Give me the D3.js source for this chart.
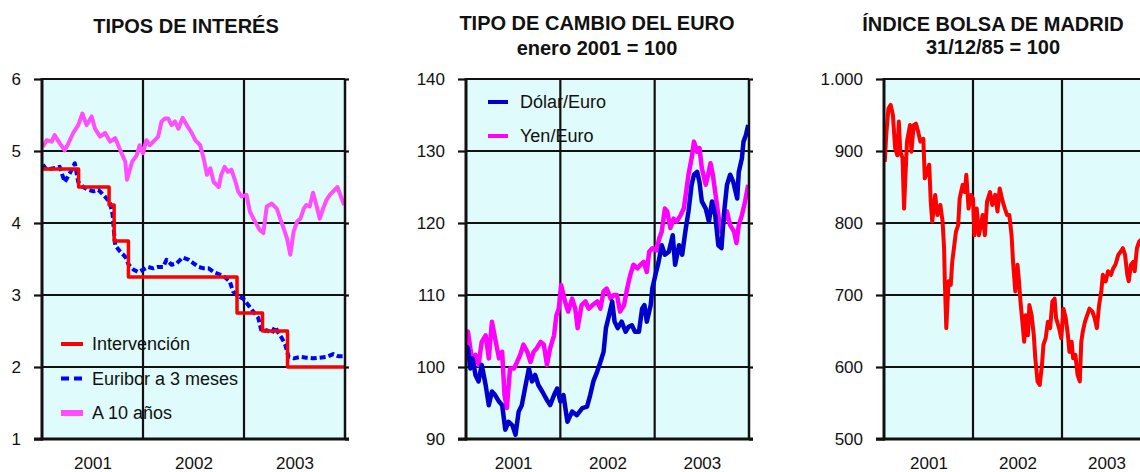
<!DOCTYPE html>
<html>
<head>
<meta charset="utf-8">
<script src="https://cdn.jsdelivr.net/npm/d3@7"></script>
<style>
    body { margin: 0; background: #fff; }
</style>
</head>
<body>
<svg id="main" width="1140" height="472"></svg>
<script>
// meses desde enero 2001
const years = ["2001", "2002", "2003"];
const yearMid = [6, 18, 30];

const tiposTicks = [1, 2, 3, 4, 5, 6];
const cambioTicks = [90, 100, 110, 120, 130, 140];
const bolsaTicks = [500, 600, 700, 800, 900, 1000];
const bolsaLabels = ["500", "600", "700", "800", "900", "1.000"];

const intervencion = [[0, 4.75], [4.35, 4.5], [7.97, 4.25], [8.57, 3.75], [10.27, 3.25], [23.17, 2.75], [26.2, 2.5], [29.17, 2.0], [35.9, 2.0]];

const euribor = [[0.1, 4.81], [0.55, 4.74], [1.35, 4.76], [2.1, 4.78], [2.7, 4.57], [3.3, 4.69], [3.9, 4.83], [4.3, 4.57], [4.9, 4.50], [5.5, 4.46],
    [6.1, 4.44], [6.7, 4.46], [7.3, 4.39], [7.7, 4.34], [8.1, 4.27], [8.4, 4.11], [8.55, 3.88], [8.7, 3.69], [9.3, 3.60], [9.9, 3.53],
    [10.3, 3.42], [10.9, 3.35], [11.4, 3.32], [12.0, 3.35], [12.6, 3.39], [13.2, 3.37], [13.8, 3.39], [14.4, 3.39], [14.8, 3.49], [15.4, 3.42],
    [16.0, 3.44], [16.7, 3.52], [17.4, 3.49], [18.0, 3.44], [18.6, 3.39], [19.2, 3.37], [19.8, 3.37], [20.4, 3.32], [21.2, 3.28], [21.7, 3.25],
    [22.3, 3.19], [22.7, 3.05], [23.3, 2.98], [23.9, 2.95], [24.5, 2.86], [25.1, 2.77], [25.7, 2.68], [26.1, 2.49], [26.7, 2.51], [27.3, 2.47],
    [27.7, 2.56], [28.1, 2.47], [28.5, 2.40], [28.9, 2.31], [29.3, 2.14], [29.9, 2.12], [30.7, 2.14], [31.4, 2.13], [32.2, 2.12], [33.0, 2.13],
    [33.8, 2.14], [34.6, 2.18], [35.2, 2.15], [35.9, 2.15]];

const diezAnos = [[0.1, 5.06], [0.55, 5.15], [1.15, 5.13], [1.5, 5.22], [2.1, 5.11], [2.7, 5.01], [3.1, 5.10], [3.7, 5.25], [4.3, 5.36], [4.8, 5.52],
    [5.3, 5.36], [5.9, 5.48], [6.3, 5.31], [6.9, 5.20], [7.5, 5.25], [8.1, 5.13], [8.7, 5.18], [9.3, 5.01], [9.9, 4.85], [10.1, 4.60],
    [10.7, 4.85], [11.25, 4.94], [11.6, 5.08], [12.0, 4.97], [12.4, 5.15], [12.8, 5.08], [13.4, 5.15], [13.8, 5.20], [14.2, 5.41], [14.6, 5.45],
    [15.0, 5.45], [15.4, 5.36], [15.8, 5.41], [16.2, 5.31], [16.7, 5.46], [17.2, 5.36], [17.8, 5.25], [18.2, 5.15], [18.8, 5.08], [19.2, 4.90],
    [19.6, 4.67], [20.0, 4.76], [20.4, 4.57], [21.0, 4.50], [21.3, 4.67], [21.7, 4.78], [22.1, 4.71], [22.5, 4.74], [23.0, 4.57], [23.3, 4.44],
    [23.7, 4.37], [24.3, 4.39], [24.7, 4.16], [25.3, 4.02], [25.9, 3.90], [26.3, 3.86], [26.7, 4.23], [27.3, 4.27], [27.9, 4.20], [28.3, 4.06],
    [28.7, 3.93], [29.1, 3.79], [29.5, 3.56], [29.9, 3.88], [30.3, 4.02], [30.7, 4.06], [31.1, 4.20], [31.4, 4.25], [31.8, 4.23], [32.2, 4.42],
    [32.6, 4.25], [33.0, 4.06], [33.4, 4.20], [33.8, 4.32], [34.2, 4.39], [34.6, 4.44], [35.1, 4.50], [35.6, 4.34], [35.9, 4.25]];

const dolarEuro = [[0, 102.9], [0.25, 102.6], [0.55, 99.8], [0.85, 101.2], [1.2, 98.9], [1.6, 98.0], [2.0, 100.3], [2.5, 97.5], [2.9, 94.7], [3.3, 96.6],
    [3.7, 96.1], [4.2, 95.2], [4.6, 94.7], [5.0, 91.3], [5.4, 92.4], [5.9, 91.9], [6.3, 90.6], [6.7, 93.8], [7.1, 94.7], [7.5, 97.0],
    [8.0, 99.8], [8.4, 98.0], [8.8, 98.9], [9.2, 97.5], [9.7, 96.6], [10.3, 95.4], [10.7, 94.7], [11.2, 96.1], [11.6, 97.0], [12.0, 95.2],
    [12.4, 96.1], [12.9, 92.4], [13.5, 93.8], [14.1, 93.3], [14.8, 94.3], [15.4, 94.5], [15.8, 96.1], [16.2, 98.0], [16.7, 99.4], [17.1, 100.7],
    [17.5, 102.1], [17.8, 105.4], [18.2, 107.2], [18.6, 109.1], [18.9, 106.3], [19.3, 105.4], [19.8, 106.3], [20.3, 104.9], [20.7, 105.6], [21.1, 105.8],
    [21.5, 104.9], [22.0, 104.9], [22.4, 108.1], [22.7, 108.6], [23.0, 106.3], [23.5, 108.6], [23.7, 110.9], [24.1, 112.8], [24.5, 114.6], [24.9, 116.9],
    [25.3, 115.6], [25.8, 116.0], [26.3, 118.3], [26.6, 114.2], [27.1, 116.9], [27.5, 115.6], [27.9, 118.8], [28.3, 121.6], [28.7, 125.3], [29.0, 126.7],
    [29.4, 127.1], [29.7, 125.7], [30.0, 123.0], [30.5, 122.0], [30.9, 120.2], [31.3, 123.0], [31.7, 121.1], [32.1, 116.9], [32.5, 116.5], [32.8, 121.1],
    [33.2, 125.3], [33.6, 126.7], [34.0, 125.7], [34.5, 123.4], [34.7, 127.1], [35.1, 129.0], [35.3, 131.3], [35.6, 132.2], [35.9, 133.6]];

const yenEuro = [[0, 105.0], [0.25, 104.9], [0.55, 102.6], [0.85, 100.7], [1.2, 101.7], [1.6, 100.3], [2.0, 103.5], [2.5, 104.4], [2.9, 101.2], [3.3, 106.3],
    [3.7, 104.0], [4.2, 101.2], [4.6, 102.1], [4.9, 96.1], [5.2, 94.3], [5.6, 99.8], [6.1, 99.8], [6.5, 100.7], [6.9, 101.7], [7.3, 103.1],
    [7.8, 102.1], [8.2, 100.7], [8.6, 102.1], [9.0, 102.6], [9.5, 103.5], [9.9, 103.1], [10.3, 100.3], [10.7, 102.6], [11.2, 104.4], [11.5, 107.2],
    [11.8, 108.1], [12.1, 111.4], [12.6, 109.1], [13.0, 107.7], [13.5, 109.5], [13.9, 108.1], [14.2, 105.4], [14.7, 108.6], [15.2, 109.1], [15.6, 108.1],
    [16.1, 108.6], [16.7, 109.1], [17.1, 108.1], [17.5, 110.5], [17.9, 110.9], [18.4, 109.5], [18.8, 110.0], [19.2, 110.0], [19.6, 107.7], [20.1, 108.6],
    [20.5, 110.9], [20.9, 112.8], [21.3, 114.2], [21.8, 113.7], [22.2, 114.2], [22.6, 114.6], [23.0, 113.2], [23.3, 116.0], [23.7, 116.5], [24.2, 116.2],
    [24.6, 117.9], [24.9, 118.8], [25.3, 122.0], [25.6, 121.6], [26.0, 119.3], [26.4, 120.6], [26.8, 120.2], [27.3, 121.1], [27.7, 122.0], [28.0, 124.3],
    [28.3, 126.7], [28.7, 129.0], [29.0, 131.3], [29.4, 129.9], [29.7, 130.4], [30.0, 127.6], [30.5, 125.3], [30.8, 126.7], [31.1, 128.3], [31.4, 126.7],
    [31.7, 124.3], [32.1, 121.1], [32.4, 118.8], [32.8, 120.2], [33.2, 121.6], [33.6, 119.7], [34.1, 118.8], [34.4, 117.2], [34.7, 119.7], [35.1, 121.1],
    [35.5, 123.0], [35.9, 125.3]];

const bolsaMadrid = [[0.1, 885], [0.3, 922], [0.6, 959], [0.9, 964], [1.2, 950], [1.5, 904], [1.8, 894], [2.0, 941], [2.2, 899], [2.5, 890],
    [2.7, 820], [2.9, 867], [3.1, 913], [3.5, 936], [3.7, 899], [4.0, 936], [4.3, 938], [4.6, 927], [4.9, 913], [5.3, 917],
    [5.5, 862], [5.8, 871], [6.1, 881], [6.3, 830], [6.5, 802], [6.9, 839], [7.2, 811], [7.6, 825], [7.9, 802], [8.1, 765],
    [8.2, 719], [8.4, 654], [8.7, 719], [9.0, 714], [9.2, 746], [9.7, 788], [10.0, 797], [10.2, 834], [10.6, 853], [10.9, 843],
    [11.1, 867], [11.4, 820], [11.7, 839], [12.0, 834], [12.2, 783], [12.5, 820], [12.8, 783], [13.3, 811], [13.6, 783], [13.9, 830],
    [14.3, 843], [14.6, 825], [15.0, 839], [15.3, 816], [15.6, 848], [16.0, 830], [16.3, 820], [16.6, 811], [16.9, 811], [17.2, 783],
    [17.4, 746], [17.7, 705], [18.0, 742], [18.2, 719], [18.4, 691], [18.7, 658], [18.9, 635], [19.1, 672], [19.4, 644], [19.6, 686],
    [19.9, 672], [20.2, 644], [20.4, 612], [20.7, 580], [21.0, 575], [21.3, 603], [21.5, 631], [21.8, 640], [22.1, 663], [22.4, 654],
    [22.7, 691], [23.0, 695], [23.2, 668], [23.6, 654], [23.9, 640], [24.2, 681], [24.5, 668], [24.8, 644], [25.0, 621], [25.3, 635],
    [25.5, 612], [25.8, 617], [26.1, 589], [26.4, 580], [26.6, 635], [26.8, 649], [27.1, 663], [27.4, 672], [27.7, 681], [28.1, 677],
    [28.4, 668], [28.7, 654], [29.0, 686], [29.3, 705], [29.5, 728], [29.9, 719], [30.2, 733], [30.6, 728], [30.9, 737], [31.2, 742],
    [31.6, 756], [31.9, 760], [32.2, 765], [32.5, 756], [32.8, 728], [33.0, 719], [33.3, 742], [33.6, 746], [33.8, 733], [34.1, 765],
    [34.4, 774], [35.0, 780], [35.8, 790]];

const font = "'Liberation Sans', Arial, sans-serif";
const ink = "#111";
const plotTop = 79, plotBottom = 439;
const svg = d3.select("#main");

const drawPanel = (p, idx) => {
    const x = d3.scaleLinear([0, 36], [p.left, p.right]);
    const y = d3.scaleLinear(p.yDomain, [plotBottom, plotTop]);
    const g = svg.append("g");

    g.append("rect")
        .attr("x", p.left).attr("y", plotTop)
        .attr("width", p.right - p.left).attr("height", plotBottom - plotTop)
        .attr("fill", "#dffbfb");

    // rejilla
    g.append("g").selectAll("line").data(p.ticks).join("line")
        .attr("x1", p.left).attr("x2", p.right)
        .attr("y1", d => y(d)).attr("y2", d => y(d))
        .attr("stroke", ink).attr("stroke-width", 2.2);
    g.append("g").selectAll("line").data([12, 24]).join("line")
        .attr("x1", d => x(d)).attr("x2", d => x(d))
        .attr("y1", plotTop).attr("y2", plotBottom)
        .attr("stroke", ink).attr("stroke-width", 2.2);

    const yAxis = g.append("g")
        .attr("transform", `translate(${p.left},0)`)
        .call(d3.axisLeft(y).tickValues(p.ticks).tickSize(8).tickPadding(13).tickFormat((d, i) => p.labels[i]));
    yAxis.select(".domain").remove();
    yAxis.attr("font-size", 17).attr("font-family", font);
    yAxis.selectAll("line").attr("stroke", ink).attr("stroke-width", 2.2);
    yAxis.selectAll("text").attr("fill", ink);

    const rAxis = g.append("g")
        .attr("transform", `translate(${p.right},0)`)
        .call(d3.axisRight(y).tickValues(p.ticks).tickSize(4).tickFormat(""));
    rAxis.select(".domain").remove();
    rAxis.selectAll("line").attr("stroke", ink).attr("stroke-width", 2.2);

    const xAxis = g.append("g")
        .attr("transform", `translate(0,${plotBottom})`)
        .call(d3.axisBottom(x).tickValues(yearMid).tickSize(0).tickPadding(18).tickFormat((d, i) => years[i]));
    xAxis.select(".domain").remove();
    xAxis.attr("font-size", 17).attr("font-family", font);
    xAxis.selectAll("text").attr("fill", ink);

    // series
    g.append("clipPath").attr("id", "clip" + idx)
        .append("rect")
        .attr("x", p.left).attr("y", plotTop)
        .attr("width", p.right - p.left).attr("height", plotBottom - plotTop);

    p.series.forEach(s => {
        const line = d3.line()
            .x(d => x(d[0]))
            .y(d => y(d[1]))
            .curve(s.step ? d3.curveStepAfter : d3.curveLinear);
        g.append("path")
            .datum(s.data)
            .attr("clip-path", `url(#clip${idx})`)
            .attr("d", line)
            .attr("fill", "none")
            .attr("stroke", s.color)
            .attr("stroke-width", s.width)
            .attr("stroke-dasharray", s.dash || null)
            .attr("stroke-linejoin", "round");
    });

    // marco
    g.append("line").attr("x1", p.left).attr("x2", p.right).attr("y1", plotTop).attr("y2", plotTop)
        .attr("stroke", ink).attr("stroke-width", 2.2);
    g.append("line").attr("x1", p.right).attr("x2", p.right).attr("y1", plotTop).attr("y2", plotBottom)
        .attr("stroke", ink).attr("stroke-width", 2.5);
    g.append("line").attr("x1", p.left).attr("x2", p.left).attr("y1", plotTop - 1).attr("y2", plotBottom + 1.5)
        .attr("stroke", ink).attr("stroke-width", 3);
    g.append("line").attr("x1", p.left - 8).attr("x2", p.right + 4).attr("y1", plotBottom).attr("y2", plotBottom)
        .attr("stroke", ink).attr("stroke-width", 3);

    // leyenda
    if (p.legend) {
        const lg = g.append("g").selectAll("g").data(p.legend.items).join("g")
            .attr("transform", (d, i) => `translate(0,${p.legend.rows[i]})`);
        lg.append("line")
            .attr("x1", p.legend.x1).attr("x2", p.legend.x2)
            .attr("stroke", d => d.color)
            .attr("stroke-width", d => d.legendWidth)
            .attr("stroke-dasharray", d => d.legendDash || null);
        lg.append("text")
            .attr("x", p.legend.textX).attr("dy", "0.35em")
            .attr("font-size", 18).attr("font-family", font).attr("fill", ink)
            .text(d => d.name);
    }

    // titulo
    g.append("g").selectAll("text").data(p.title).join("text")
        .attr("x", p.titleX).attr("y", (d, i) => p.titleY[i])
        .attr("text-anchor", "middle")
        .attr("font-size", 20).attr("font-weight", "bold").attr("font-family", font).attr("fill", ink)
        .text(d => d);
};

const sInterv = {name: "Intervención", data: intervencion, color: "#ff0000", width: 3.5, step: true, legendWidth: 4};
const sEuribor = {name: "Euribor a 3 meses", data: euribor, color: "#0000ff", width: 4, dash: "6,3", legendWidth: 4, legendDash: "8,5"};
const sDiez = {name: "A 10 años", data: diezAnos, color: "#ff4dff", width: 4, legendWidth: 6};
const sDolar = {name: "Dólar/Euro", data: dolarEuro, color: "#0000cc", width: 4.5, legendWidth: 4};
const sYen = {name: "Yen/Euro", data: yenEuro, color: "#ff00ff", width: 4.5, legendWidth: 4};

const panels = [
    {
        left: 42, right: 345, yDomain: [1, 6], ticks: tiposTicks, labels: tiposTicks.map(String),
        title: ["TIPOS DE INTERÉS"], titleX: 186, titleY: [33],
        series: [sDiez, sEuribor, sInterv],
        legend: {items: [sInterv, sEuribor, sDiez], rows: [344, 378.5, 413], x1: 61, x2: 83, textX: 92}
    },
    {
        left: 466, right: 749, yDomain: [90, 140], ticks: cambioTicks, labels: cambioTicks.map(String),
        title: ["TIPO DE CAMBIO DEL EURO", "enero 2001 = 100"], titleX: 597, titleY: [30, 55],
        series: [sYen, sDolar],
        legend: {items: [sDolar, sYen], rows: [102, 136], x1: 488, x2: 508, textX: 520}
    },
    {
        left: 884, right: 1151, yDomain: [500, 1000], ticks: bolsaTicks, labels: bolsaLabels,
        title: ["ÍNDICE BOLSA DE MADRID", "31/12/85 = 100"], titleX: 993, titleY: [30.5, 54],
        series: [{data: bolsaMadrid, color: "#ff0000", width: 4}]
    }
];

panels.forEach(drawPanel);
</script>
</body>
</html>
